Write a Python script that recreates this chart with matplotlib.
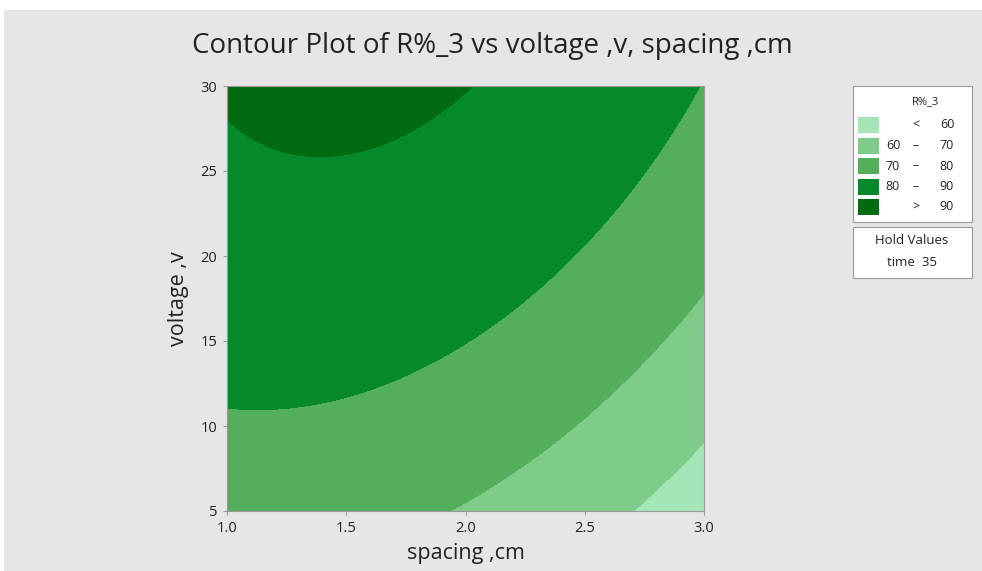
import numpy as np
import matplotlib.pyplot as plt
from matplotlib.patches import Rectangle

plt.rcParams['font.family'] = ['Open Sans', 'DejaVu Sans']

# points: spacing (cm), voltage (v)
spacing_90 = [1.00, 1.14, 1.38, 1.52, 1.65, 1.86, 2.00]
voltage_90 = [28.2, 26.5, 25.8, 25.9, 26.5, 28.1, 30.0]
spacing_80 = [1.00, 1.14, 1.43, 1.56, 1.65, 1.89, 1.98, 2.27, 2.48, 2.62, 2.77, 2.90, 2.98]
voltage_80 = [11.1, 11.05, 11.5, 11.9, 12.3, 13.9, 14.1, 18.0, 20.3, 22.1, 25.1, 28.0, 30.0]
spacing_70 = [1.935, 2.17, 2.45, 2.68, 2.87, 3.00]
voltage_70 = [5.0, 7.0, 10.2, 13.1, 16.0, 17.5]
spacing_60 = [2.72, 2.86, 3.00]
voltage_60 = [5.0, 7.0, 9.0]

levels = [60, 70, 80, 90]
band_labels = [('', '<', '60'), ('60', '\u2013', '70'), ('70', '\u2013', '80'),
               ('80', '\u2013', '90'), ('', '>', '90')]
colors = ['#a4e6b8', '#7ecb8a', '#53af5b', '#06892a', '#006b0f']
x_ticks = [1.0, 1.5, 2.0, 2.5, 3.0]
y_ticks = [5, 10, 15, 20, 25, 30]

# fit a quadratic response surface through the contour points (like minitab does)
s = np.array(spacing_90 + spacing_80 + spacing_70 + spacing_60)
v = np.array(voltage_90 + voltage_80 + voltage_70 + voltage_60)
r = np.array([90] * len(spacing_90) + [80] * len(spacing_80)
             + [70] * len(spacing_70) + [60] * len(spacing_60), dtype=float)
A = np.column_stack([np.ones_like(s), s, v, s ** 2, v ** 2, s * v])
coef = np.linalg.lstsq(A, r, rcond=None)[0]

S, V = np.meshgrid(np.linspace(1, 3, 400), np.linspace(5, 30, 400))
Z = coef[0] + coef[1] * S + coef[2] * V + coef[3] * S ** 2 + coef[4] * V ** 2 + coef[5] * S * V

fig = plt.figure(figsize=(9.82, 5.71), dpi=100, facecolor='white')
W, H = 982, 571
fig.patches.append(Rectangle((4 / W, 0), 1, 1 - 10 / H, transform=fig.transFigure,
                             facecolor='#e6e6e6', edgecolor='none', zorder=-10))

ax = fig.add_axes([227 / W, 1 - 511 / H, (704 - 227) / W, (511 - 86) / H])
ax.contourf(S, V, Z, levels=[-1e9] + levels + [1e9], colors=colors)
ax.set_xlim(1, 3)
ax.set_ylim(5, 30)
ax.set_xticks(x_ticks)
ax.set_xticklabels(['%.1f' % t for t in x_ticks])
ax.set_yticks(y_ticks)
for sp in ax.spines.values():
    sp.set_color('#9a9a9a')
    sp.set_linewidth(0.8)
ax.tick_params(colors='#9a9a9a', labelcolor='#222222', labelsize=10.5, length=3, width=0.8, pad=4)
ax.set_xlabel('spacing ,cm', fontsize=15.5, color='#222222', labelpad=5)
ax.set_ylabel('voltage ,v', fontsize=15.5, color='#222222', labelpad=8)
fig.text(492 / W, 1 - 46 / H, 'Contour Plot of R%_3 vs voltage ,v, spacing ,cm',
         ha='center', va='center', fontsize=20, color='#222222')

# legend boxes
lg = fig.add_axes([0, 0, 1, 1], facecolor='none')
lg.set_xlim(0, W)
lg.set_ylim(H, 0)
lg.axis('off')
lg.add_patch(Rectangle((853, 86), 119, 136, facecolor='white', edgecolor='#9a9a9a', lw=0.8))
lg.add_patch(Rectangle((853, 227), 119, 51, facecolor='white', edgecolor='#9a9a9a', lw=0.8))
lg.text(926, 102, 'R%_3', ha='center', va='center', fontsize=8, color='#222222')
for i, (c, (lo, dash, hi)) in enumerate(zip(colors, band_labels)):
    y = 125 + i * 20.5
    lg.add_patch(Rectangle((858, y - 8), 21, 16, facecolor=c, edgecolor='none'))
    lg.text(893, y, lo, ha='center', va='center', fontsize=9, color='#222222')
    lg.text(916, y, dash, ha='center', va='center', fontsize=9, color='#222222')
    lg.text(947, y, hi, ha='center', va='center', fontsize=9, color='#222222')
lg.text(912, 240, 'Hold Values', ha='center', va='center', fontsize=9.5, color='#222222')
lg.text(912, 262, 'time  35', ha='center', va='center', fontsize=9.5, color='#222222')

fig.savefig('out.png', dpi=100, facecolor=fig.get_facecolor())
